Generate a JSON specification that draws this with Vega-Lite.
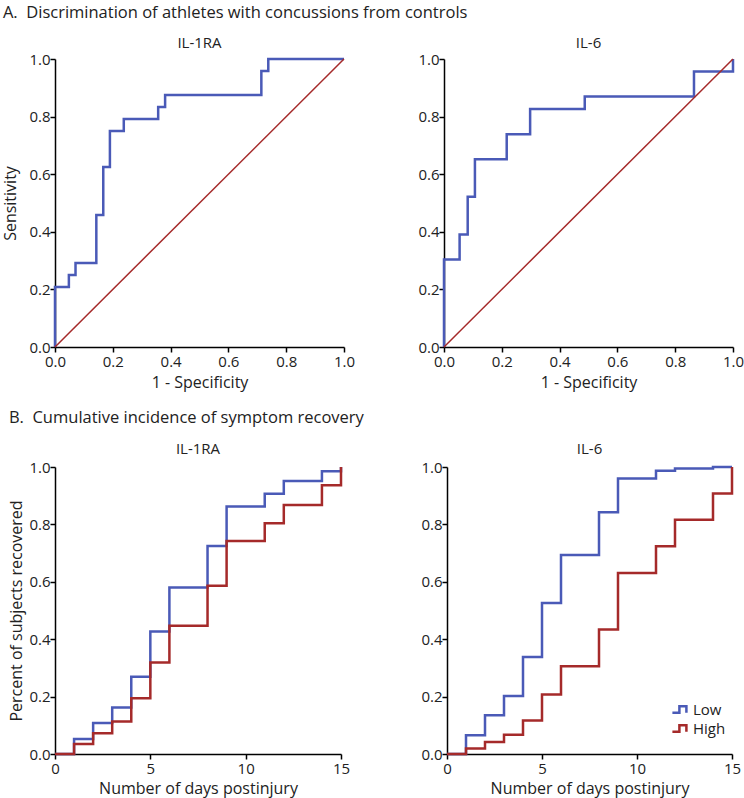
{
  "$schema": "https://vega.github.io/schema/vega-lite/v6.json",
  "padding": {"left": 2, "top": 4, "right": 2, "bottom": 2},
  "background": "white",
  "config": {
    "font": "Open Sans",
    "view": {"stroke": null},
    "axis": {
      "grid": false,
      "domainColor": "#000",
      "domainWidth": 1.5,
      "tickColor": "#000",
      "tickWidth": 1.5,
      "tickSize": 5,
      "labelFontSize": 15,
      "titleFontSize": 16,
      "titleFontWeight": "normal",
      "labelColor": "#222",
      "titleColor": "#222",
      "labelPadding": 0,
      "labelFlush": false
    },
    "axisX": {"labelPadding": 2},
    "title": {"fontWeight": "normal", "fontSize": 15, "color": "#222", "offset": 1},
    "legend": {"labelFontSize": 15, "labelColor": "#222"}
  },
  "datasets": {
    "roc1": [
      {"o": 0, "fpr": 0, "tpr": 0},
      {"o": 1, "fpr": 0, "tpr": 0.208},
      {"o": 2, "fpr": 0.048, "tpr": 0.25},
      {"o": 3, "fpr": 0.071, "tpr": 0.292},
      {"o": 4, "fpr": 0.143, "tpr": 0.458},
      {"o": 5, "fpr": 0.167, "tpr": 0.625},
      {"o": 6, "fpr": 0.19, "tpr": 0.75},
      {"o": 7, "fpr": 0.238, "tpr": 0.792},
      {"o": 8, "fpr": 0.357, "tpr": 0.833},
      {"o": 9, "fpr": 0.381, "tpr": 0.875},
      {"o": 10, "fpr": 0.714, "tpr": 0.958},
      {"o": 11, "fpr": 0.738, "tpr": 1},
      {"o": 12, "fpr": 1, "tpr": 1}
    ],
    "roc2": [
      {"o": 0, "fpr": 0, "tpr": 0},
      {"o": 1, "fpr": 0, "tpr": 0.304},
      {"o": 2, "fpr": 0.054, "tpr": 0.391},
      {"o": 3, "fpr": 0.082, "tpr": 0.522},
      {"o": 4, "fpr": 0.107, "tpr": 0.652},
      {"o": 5, "fpr": 0.217, "tpr": 0.739},
      {"o": 6, "fpr": 0.298, "tpr": 0.826},
      {"o": 7, "fpr": 0.487, "tpr": 0.87},
      {"o": 8, "fpr": 0.865, "tpr": 0.957},
      {"o": 9, "fpr": 1, "tpr": 1}
    ],
    "diag": [
      {"fpr": 0, "tpr": 0},
      {"fpr": 1, "tpr": 1}
    ],
    "km1": [
      {"group": "Low", "day": 0, "p": 0},
      {"group": "Low", "day": 1, "p": 0.052},
      {"group": "Low", "day": 2, "p": 0.108},
      {"group": "Low", "day": 3, "p": 0.162},
      {"group": "Low", "day": 4, "p": 0.269},
      {"group": "Low", "day": 5, "p": 0.427},
      {"group": "Low", "day": 6, "p": 0.58},
      {"group": "Low", "day": 8, "p": 0.725},
      {"group": "Low", "day": 9, "p": 0.862},
      {"group": "Low", "day": 11, "p": 0.907},
      {"group": "Low", "day": 12, "p": 0.951},
      {"group": "Low", "day": 14, "p": 0.985},
      {"group": "Low", "day": 15, "p": 1.0},
      {"group": "High", "day": 0, "p": 0},
      {"group": "High", "day": 1, "p": 0.035},
      {"group": "High", "day": 2, "p": 0.072},
      {"group": "High", "day": 3, "p": 0.113},
      {"group": "High", "day": 4, "p": 0.194},
      {"group": "High", "day": 5, "p": 0.319},
      {"group": "High", "day": 6, "p": 0.447},
      {"group": "High", "day": 8, "p": 0.586},
      {"group": "High", "day": 9, "p": 0.742},
      {"group": "High", "day": 11, "p": 0.804},
      {"group": "High", "day": 12, "p": 0.868},
      {"group": "High", "day": 14, "p": 0.936},
      {"group": "High", "day": 15, "p": 1.0}
    ],
    "km2": [
      {"group": "Low", "day": 0, "p": 0},
      {"group": "Low", "day": 1, "p": 0.065},
      {"group": "Low", "day": 2, "p": 0.135},
      {"group": "Low", "day": 3, "p": 0.202},
      {"group": "Low", "day": 4, "p": 0.338},
      {"group": "Low", "day": 5, "p": 0.526},
      {"group": "Low", "day": 6, "p": 0.693},
      {"group": "Low", "day": 8, "p": 0.842},
      {"group": "Low", "day": 9, "p": 0.96},
      {"group": "Low", "day": 11, "p": 0.987},
      {"group": "Low", "day": 12, "p": 0.995},
      {"group": "Low", "day": 14, "p": 1.0},
      {"group": "Low", "day": 15, "p": 1.0},
      {"group": "High", "day": 0, "p": 0},
      {"group": "High", "day": 1, "p": 0.019},
      {"group": "High", "day": 2, "p": 0.042},
      {"group": "High", "day": 3, "p": 0.067},
      {"group": "High", "day": 4, "p": 0.117},
      {"group": "High", "day": 5, "p": 0.207},
      {"group": "High", "day": 6, "p": 0.306},
      {"group": "High", "day": 8, "p": 0.434},
      {"group": "High", "day": 9, "p": 0.631},
      {"group": "High", "day": 11, "p": 0.724},
      {"group": "High", "day": 12, "p": 0.816},
      {"group": "High", "day": 14, "p": 0.908},
      {"group": "High", "day": 15, "p": 1.0}
    ]
  },
  "spacing": 19,
  "resolve": {"scale": {"color": "independent"}, "legend": {"color": "independent"}},
  "vconcat": [
    {
      "title": {"text": "A.\u00a0\u00a0Discrimination of athletes with concussions from controls", "anchor": "start", "fontSize": 16.5, "offset": 15},
      "spacing": 62,
      "hconcat": [
        {
          "title": "IL-1RA",
          "width": 289,
          "height": 288,
          "layer": [
            {
              "data": {"name": "roc1"},
              "mark": {"type": "line", "interpolate": "step-after", "color": "#4a5ab7", "strokeWidth": 2.5},
              "encoding": {
                "x": {"field": "fpr", "type": "quantitative", "scale": {"domain": [0, 1], "nice": false}, "axis": {"title": "1 - Specificity", "values": [0, 0.2, 0.4, 0.6, 0.8, 1], "format": ".1f", "titlePadding": 5}},
                "y": {"field": "tpr", "type": "quantitative", "scale": {"domain": [0, 1], "nice": false}, "axis": {"title": "Sensitivity", "values": [0, 0.2, 0.4, 0.6, 0.8, 1], "format": ".1f", "titlePadding": 10}},
                "order": {"field": "o", "type": "quantitative"}
              }
            },
            {
              "data": {"name": "diag"},
              "mark": {"type": "line", "color": "#a52a2a", "strokeWidth": 1.5},
              "encoding": {
                "x": {"field": "fpr", "type": "quantitative"},
                "y": {"field": "tpr", "type": "quantitative"}
              }
            }
          ]
        },
        {
          "title": "IL-6",
          "width": 289,
          "height": 288,
          "layer": [
            {
              "data": {"name": "roc2"},
              "mark": {"type": "line", "interpolate": "step-after", "color": "#4a5ab7", "strokeWidth": 2.5},
              "encoding": {
                "x": {"field": "fpr", "type": "quantitative", "scale": {"domain": [0, 1], "nice": false}, "axis": {"title": "1 - Specificity", "values": [0, 0.2, 0.4, 0.6, 0.8, 1], "format": ".1f", "titlePadding": 5}},
                "y": {"field": "tpr", "type": "quantitative", "scale": {"domain": [0, 1], "nice": false}, "axis": {"title": null, "values": [0, 0.2, 0.4, 0.6, 0.8, 1], "format": ".1f"}},
                "order": {"field": "o", "type": "quantitative"}
              }
            },
            {
              "data": {"name": "diag"},
              "mark": {"type": "line", "color": "#a52a2a", "strokeWidth": 1.5},
              "encoding": {
                "x": {"field": "fpr", "type": "quantitative"},
                "y": {"field": "tpr", "type": "quantitative"}
              }
            }
          ]
        }
      ]
    },
    {
      "title": {"text": "B.\u00a0\u00a0Cumulative incidence of symptom recovery", "anchor": "start", "fontSize": 16.5, "offset": 16},
      "spacing": 70,
      "resolve": {"scale": {"color": "independent"}, "legend": {"color": "independent"}},
      "hconcat": [
        {
          "title": {"text": "IL-1RA", "offset": 3},
          "width": 286,
          "height": 287,
          "data": {"name": "km1"},
          "mark": {"type": "line", "interpolate": "step-after", "strokeWidth": 2.5},
          "encoding": {
            "x": {"field": "day", "type": "quantitative", "scale": {"domain": [0, 15], "nice": false}, "axis": {"title": "Number of days postinjury", "values": [0, 5, 10, 15], "titlePadding": 4}},
            "y": {"field": "p", "type": "quantitative", "scale": {"domain": [0, 1], "nice": false}, "axis": {"title": "Percent of subjects recovered", "values": [0, 0.2, 0.4, 0.6, 0.8, 1], "format": ".1f", "titlePadding": 4}},
            "color": {"field": "group", "type": "nominal", "scale": {"domain": ["Low", "High"], "range": ["#4a5ab7", "#a52a2a"]}, "legend": null}
          }
        },
        {
          "title": {"text": "IL-6", "offset": 3},
          "width": 285,
          "height": 287,
          "data": {"name": "km2"},
          "mark": {"type": "line", "interpolate": "step-after", "strokeWidth": 2.5},
          "encoding": {
            "x": {"field": "day", "type": "quantitative", "scale": {"domain": [0, 15], "nice": false}, "axis": {"title": "Number of days postinjury", "values": [0, 5, 10, 15], "titlePadding": 4}},
            "y": {"field": "p", "type": "quantitative", "scale": {"domain": [0, 1], "nice": false}, "axis": {"title": null, "values": [0, 0.2, 0.4, 0.6, 0.8, 1], "format": ".1f"}},
            "color": {"field": "group", "type": "nominal", "scale": {"domain": ["Low", "High"], "range": ["#4a5ab7", "#a52a2a"]}, "legend": {"title": null, "orient": "none", "legendX": 226, "legendY": 234, "symbolType": "M-1.3,0.45L-0.3,0.45L-0.3,-0.45L0.7,-0.45L0.7,0.45", "symbolSize": 196, "symbolStrokeWidth": 2.5, "symbolFillColor": "transparent", "labelOffset": 3, "rowPadding": 2}}
          }
        }
      ]
    }
  ]
}
